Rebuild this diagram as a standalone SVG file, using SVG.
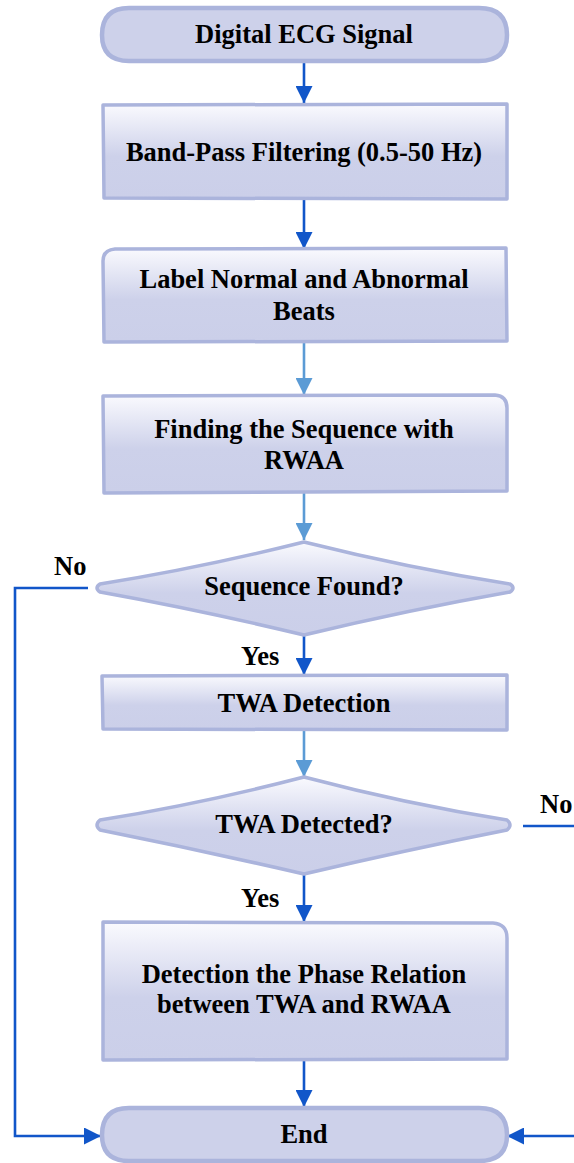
<svg xmlns="http://www.w3.org/2000/svg" width="574" height="1163" viewBox="0 0 574 1163">
<style>
.term{fill:#cdd1ea;stroke:#abb4dc;stroke-width:4.5;stroke-linejoin:round}
.box{fill:url(#g);stroke:#abb4dc;stroke-width:3.5;stroke-linejoin:round}
text{font-family:'Liberation Serif','Times New Roman',Times,'DejaVu Serif',serif;font-weight:bold;font-size:26.5px;fill:#000}
.t{text-anchor:middle}
.dk{stroke:#1156c9;stroke-width:2.6;fill:none}
.lt{stroke:#5b9bd5;stroke-width:2.6;fill:none}
</style>
<defs>
<linearGradient id="g" x1="0" y1="0" x2="0" y2="1">
<stop offset="0" stop-color="#fafafe"/>
<stop offset="0.55" stop-color="#cdd1ea"/>
<stop offset="1" stop-color="#cbcfe9"/>
</linearGradient>
<marker id="ad" markerUnits="userSpaceOnUse" markerWidth="17" markerHeight="17" viewBox="0 0 17 17" refX="17" refY="8.5" orient="auto"><path d="M0,0 L17,8.5 L0,17 Z" fill="#1156c9"/></marker>
<marker id="al" markerUnits="userSpaceOnUse" markerWidth="17" markerHeight="17" viewBox="0 0 17 17" refX="17" refY="8.5" orient="auto"><path d="M0,0 L17,8.5 L0,17 Z" fill="#5b9bd5"/></marker>
</defs>

<g id="connectors">
<path class="dk" d="M304,62 V103" marker-end="url(#ad)"/>
<path class="dk" d="M304,199 V249" marker-end="url(#ad)"/>
<path class="lt" d="M304,343 V395" marker-end="url(#al)"/>
<path class="lt" d="M304,493 V540" marker-end="url(#al)"/>
<path class="dk" d="M304,636 V675" marker-end="url(#ad)"/>
<path class="lt" d="M304,730 V777" marker-end="url(#al)"/>
<path class="dk" d="M304,875 V922" marker-end="url(#ad)"/>
<path class="dk" d="M304,1060 V1107" marker-end="url(#ad)"/>
<path class="dk" d="M88,588 H15 V1136 H101" marker-end="url(#ad)"/>
<path class="dk" d="M523,826 H574"/>
<path class="dk" d="M574,1136 H507" marker-end="url(#ad)"/>
<text x="54" y="575">No</text>
<text x="540" y="813">No</text>
<text x="241" y="665">Yes</text>
<text x="241" y="907">Yes</text>
</g>

<g id="start">
<path class="term" d="M129,8 H479 Q507,8 507,35 Q507,61 479,61 H129 Q102,61 102,35 Q102,8 129,8 Z"/>
<text class="t" x="304" y="43">Digital ECG Signal</text>
</g>

<g id="bandpass">
<path class="box" d="M103,105 L507,104 L507,199 L104,198 Z"/>
<text class="t" x="304" y="161">Band-Pass Filtering (0.5-50 Hz)</text>
</g>

<g id="label">
<path class="box" d="M115,249 L506,248 L507,341 L104,342 L103,261 Q103,250 115,249 Z"/>
<text class="t" x="304" y="288">Label Normal and Abnormal</text>
<text class="t" x="304" y="320">Beats</text>
</g>

<g id="finding">
<path class="box" d="M103,396 L495,395 Q507,396 507,408 L507,491 L104,493 Z"/>
<text class="t" x="304" y="438">Finding the Sequence with</text>
<text class="t" x="304" y="469">RWAA</text>
</g>

<g id="seqfound">
<path class="box" d="M304,542 Q408,568 510,584 Q516,588 510,592 Q408,610 304,635 Q200,610 100,592 Q94,588 100,584 Q200,568 304,542 Z"/>
<text class="t" x="304" y="595">Sequence Found?</text>
</g>

<g id="twadetection">
<path class="box" d="M102,676 L507,675 L507,730 L103,729 Z"/>
<text class="t" x="304" y="712">TWA Detection</text>
</g>

<g id="twadetected">
<path class="box" d="M304,777 Q406,804 507,820 Q513,825 507,830 Q406,850 304,874 Q200,850 100,830 Q94,825 100,820 Q200,804 304,777 Z"/>
<text class="t" x="304" y="833">TWA Detected?</text>
</g>

<g id="phase">
<path class="box" d="M103,922 L493,923 Q507,924 507,938 L507,1059 L103,1060 Z"/>
<text class="t" x="304" y="983">Detection the Phase Relation</text>
<text class="t" x="304" y="1013">between TWA and RWAA</text>
</g>

<g id="end">
<path class="term" d="M129,1108 H479 Q507,1108 507,1135 Q507,1161 479,1161 H129 Q102,1161 102,1135 Q102,1108 129,1108 Z"/>
<text class="t" x="304" y="1143">End</text>
</g>
</svg>
